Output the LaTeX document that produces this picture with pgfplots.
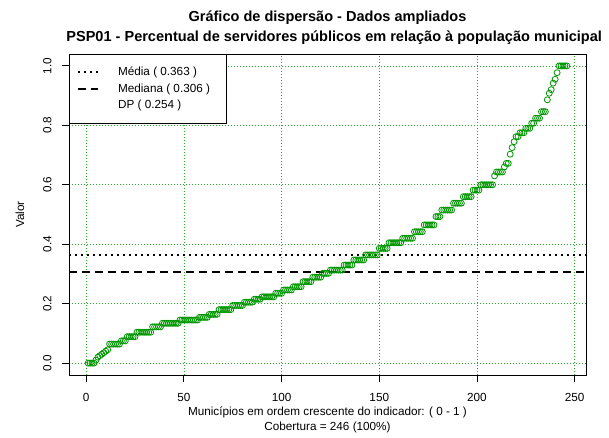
\documentclass[border=0pt]{standalone}
\usepackage{fontspec}
\setmainfont{Liberation Sans}
\usepackage{pgfplots}
\pgfplotsset{compat=1.18}
\definecolor{ptgreen}{RGB}{0,150,0}
\definecolor{gridgreen}{RGB}{40,170,40}

\begin{document}
\begin{tikzpicture}
% page = 609x437 px at 0.75pt per px
\path[use as bounding box] (-51.75pt,-46.5pt) rectangle (405pt,281.25pt);
\begin{axis}[
  scale only axis, width=387.75pt, height=240.75pt,
  at={(0,0)}, anchor=south west,
  xmin=-8.8, xmax=255.8, ymin=-0.04, ymax=1.04,
  xtick={0,50,100,150,200,250},
  ytick={0,0.2,0.4,0.6,0.8,1},
  xtick pos=bottom, ytick pos=left,
  tick align=outside, major tick length=5.25pt,
  tick style={black, line width=0.6pt},
  axis line style={black, line width=0.6pt},
  grid=major,
  major grid style={gridgreen, line width=0.55pt, dash pattern=on 0.75pt off 1.5pt},
  ticklabel style={font=\fontsize{8.8}{10}\selectfont},
  /pgf/number format/assume math mode=true,
  yticklabel style={xshift=-11pt, rotate=90, anchor=center,
    /pgf/number format/.cd, fixed, fixed zerofill, precision=1},
  xticklabel style={yshift=-5pt},
  legend style={at={(0,1)}, anchor=north west, draw=black, line width=0.6pt,
    font=\fontsize{8.8}{10}\selectfont, inner xsep=6pt, inner ysep=7.5pt,
    row sep=0.5pt, cells={anchor=west}},
  legend image code/.code={\draw[#1] (0pt,0pt) -- (15pt,0pt); \path (27pt,0pt);},
]
\addplot[only marks, mark=o, mark size=2.25pt, ptgreen,
  mark options={line width=0.6pt}, forget plot] coordinates {
(1,0) (2,0) (3,0) (4,0) (5,0.010) (6,0.020) (7,0.025) (8,0.030) (9,0.035) (10,0.040) (11,0.045)
(12,0.064) (13,0.064) (14,0.064) (15,0.064) (16,0.064) (17,0.064)
(18,0.075) (19,0.075) (20,0.075)
(21,0.089) (22,0.089) (23,0.089) (24,0.089) (25,0.089)
(26,0.104) (27,0.104) (28,0.104) (29,0.104) (30,0.104) (31,0.104) (32,0.104) (33,0.104)
(34,0.122) (35,0.122) (36,0.122) (37,0.122) (38,0.122)
(39,0.134) (40,0.134) (41,0.134) (42,0.134) (43,0.134) (44,0.134) (45,0.134) (46,0.134) (47,0.134)
(48,0.145) (49,0.145) (50,0.145) (51,0.145) (52,0.145) (53,0.145) (54,0.145) (55,0.145) (56,0.145) (57,0.145)
(58,0.154) (59,0.154) (60,0.154) (61,0.154) (62,0.154)
(63,0.164) (64,0.164) (65,0.164) (66,0.164) (67,0.164)
(68,0.180) (69,0.180) (70,0.180) (71,0.180) (72,0.180) (73,0.180) (74,0.180)
(75,0.194) (76,0.194) (77,0.194) (78,0.194) (79,0.194) (80,0.194)
(81,0.205) (82,0.205) (83,0.205) (84,0.205) (85,0.205)
(86,0.215) (87,0.215) (88,0.215) (89,0.215)
(90,0.223) (91,0.223) (92,0.223) (93,0.223) (94,0.223) (95,0.223) (96,0.223)
(97,0.235) (98,0.235) (99,0.235) (100,0.235)
(101,0.246) (102,0.246) (103,0.246) (104,0.246) (105,0.246)
(106,0.257) (107,0.257) (108,0.257) (109,0.257) (110,0.257)
(111,0.274) (112,0.274) (113,0.274) (114,0.274) (115,0.274)
(116,0.289) (117,0.289) (118,0.289) (119,0.289) (120,0.289)
(121,0.302) (122,0.302) (123,0.302) (124,0.302)
(125,0.313) (126,0.313) (127,0.313) (128,0.313) (129,0.313) (130,0.313) (131,0.313)
(132,0.330) (133,0.330) (134,0.330) (135,0.330) (136,0.330)
(137,0.347) (138,0.347) (139,0.347) (140,0.347) (141,0.347) (142,0.347)
(143,0.364) (144,0.364) (145,0.364) (146,0.364) (147,0.364) (148,0.364) (149,0.364)
(150,0.386) (151,0.386) (152,0.386) (153,0.386) (154,0.386)
(155,0.405) (156,0.405) (157,0.405) (158,0.405) (159,0.405) (160,0.405) (161,0.405)
(162,0.420) (163,0.420) (164,0.420) (165,0.420) (166,0.420) (167,0.420)
(168,0.442) (169,0.442) (170,0.442) (171,0.442) (172,0.442)
(173,0.465) (174,0.465) (175,0.465) (176,0.465) (177,0.465) (178,0.465)
(179,0.493) (180,0.493) (181,0.493)
(182,0.515) (183,0.515) (184,0.515) (185,0.515) (186,0.515) (187,0.515)
(188,0.538) (189,0.538) (190,0.538) (191,0.538) (192,0.538)
(193,0.560) (194,0.560) (195,0.560) (196,0.560) (197,0.560)
(198,0.582) (199,0.582) (200,0.582) (201,0.582)
(202,0.600) (203,0.600) (204,0.600) (205,0.600) (206,0.600) (207,0.600) (208,0.600)
(209,0.630) (210,0.643) (211,0.643) (212,0.643) (213,0.643) (214,0.660)
(215,0.672) (216,0.672) (217,0.703) (218,0.725) (219,0.745)
(220,0.762) (221,0.762) (222,0.775) (223,0.775) (224,0.775)
(225,0.790) (226,0.790) (227,0.790) (228,0.807) (229,0.807)
(230,0.824) (231,0.824) (232,0.824) (233,0.846) (234,0.846) (235,0.846)
(236,0.886) (237,0.908) (238,0.920) (239,0.942) (240,0.955) (241,0.977)
(242,1) (243,1) (244,1) (245,1) (246,1)
};
\addplot[black, mark=none, line width=1.5pt, dash pattern=on 1.5pt off 3pt]
  coordinates {(-8.8,0.363) (255.8,0.363)};
\addlegendentry{Média ( 0.363 )}
\addplot[black, mark=none, line width=1.5pt, dash pattern=on 6pt off 3.75pt]
  coordinates {(-8.8,0.306) (255.8,0.306)};
\addlegendentry{\makebox[73pt][l]{Mediana ( 0.306 )}}
\addlegendimage{empty legend}
\addlegendentry{DP ( 0.254 )}
\end{axis}
\node[anchor=base, yshift=24.75pt, font=\bfseries\fontsize{10.9}{12}\selectfont]
  at (current axis.north) {Gráfico de dispersão - Dados ampliados};
\node[anchor=base, yshift=9.75pt, font=\bfseries\fontsize{10.9}{12}\selectfont]
  at ([xshift=5pt]current axis.north) {PSP01 - Percentual de servidores públicos em relação à população municipal};
\node[anchor=base, yshift=-30pt, font=\fontsize{8.8}{10}\selectfont]
  at (current axis.south) {Municípios em ordem crescente do indicador: ( 0 - 1 )};
\node[anchor=base, yshift=-41.25pt, font=\fontsize{8.8}{10}\selectfont]
  at (current axis.south) {Cobertura = 246 (100\%)};
\node[rotate=90, anchor=center, font=\fontsize{8.8}{10}\selectfont]
  at ([xshift=-36.75pt]current axis.west) {Valor};
\end{tikzpicture}
\end{document}
